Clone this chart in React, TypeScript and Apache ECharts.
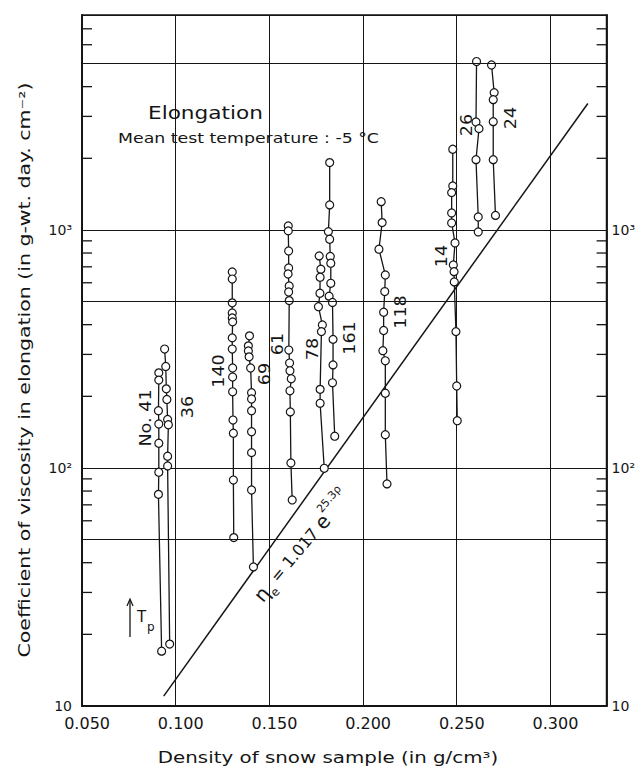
import React, { useEffect, useRef } from "react";
import * as echarts from "echarts";

// ---- axis definitions ----
const X_MIN = 0.05;
const X_MAX = 0.33;
const X_INTERVAL = 0.05;
const xTickLabels = ["0.050", "0.100", "0.150", "0.200", "0.250", "0.300"];
const Y_MIN = 10;
const Y_MAX = 8000;
const yMajorLabels: Record<number, string> = { 1: "10", 2: "10²", 3: "10³" };
const yMinorTicks = [20, 30, 40, 60, 70, 80, 90, 200, 300, 400, 600, 700, 800, 900, 2000, 3000, 4000, 6000, 7000];
const yExtraGridlines = [50, 500, 5000];

// ---- samples: [density, viscosity] ----
const sample41 = [[0.0910, 251], [0.0910, 234], [0.0908, 174], [0.0910, 153], [0.0910, 127], [0.0910, 96], [0.0908, 77.5], [0.0925, 17.0]];
const sample36 = [[0.0941, 316], [0.0947, 267], [0.0950, 215], [0.0953, 194], [0.0957, 160], [0.0961, 152], [0.0957, 112], [0.0957, 102], [0.0968, 18.2]];
const sample140 = [[0.1302, 666], [0.1302, 622], [0.1302, 494], [0.1302, 448], [0.1302, 427], [0.1304, 411], [0.1302, 352], [0.1302, 316], [0.1304, 263], [0.1304, 241], [0.1304, 209], [0.1306, 159], [0.1308, 140], [0.1308, 89], [0.1310, 51]];
const sample69 = [[0.1394, 359], [0.1388, 326], [0.1388, 310], [0.1392, 293], [0.1400, 263], [0.1405, 207], [0.1405, 195], [0.1405, 174], [0.1405, 142], [0.1405, 116], [0.1405, 80.8], [0.1415, 38.4]];
const sample61 = [[0.1601, 1039], [0.1601, 991], [0.1603, 816], [0.1603, 692], [0.1600, 653], [0.1606, 582], [0.1603, 549], [0.1606, 505], [0.1604, 313], [0.1608, 276], [0.1610, 256], [0.1617, 237], [0.1610, 211], [0.1612, 172], [0.1615, 105], [0.1622, 73.4]];
const sample78 = [[0.1766, 778], [0.1775, 684], [0.1771, 633], [0.1770, 542], [0.1762, 476], [0.1783, 399], [0.1778, 374], [0.1771, 214], [0.1771, 187], [0.1793, 99.7]];
const sample161 = [[0.1822, 1919], [0.1822, 1274], [0.1815, 984], [0.1822, 914], [0.1825, 774], [0.1828, 725], [0.1828, 597], [0.1819, 527], [0.1837, 496], [0.1840, 347], [0.1840, 271], [0.1837, 228], [0.1849, 136]];
const sample118 = [[0.2097, 1315], [0.2102, 1074], [0.2085, 830], [0.2119, 647], [0.2116, 551], [0.2110, 451], [0.2110, 378], [0.2106, 311], [0.2119, 282], [0.2119, 206], [0.2119, 138], [0.2128, 85.7]];
const sample14 = [[0.2479, 2183], [0.2479, 1531], [0.2473, 1435], [0.2473, 1179], [0.2473, 1070], [0.2491, 882], [0.2482, 713], [0.2486, 668], [0.2487, 605], [0.2496, 374], [0.2500, 221], [0.2503, 158]];
const sample26 = [[0.2606, 5100], [0.2603, 2843], [0.2619, 2665], [0.2603, 1974], [0.2615, 1134], [0.2615, 981]];
const sample24 = [[0.2686, 4933], [0.2700, 3776], [0.2695, 3527], [0.2695, 2851], [0.2695, 1974], [0.2707, 1151]];

// fitted line  eta_e = 1.017 e^(25.3 rho), end points
const fitLine = [[0.0936, 11.0], [0.320, 3400]];

const sampleNames = ["No. 41", "36", "140", "69", "61", "78", "161", "118", "14", "26", "24"];
const sampleData = [sample41, sample36, sample140, sample69, sample61, sample78, sample161, sample118, sample14, sample26, sample24];

// label placement (pixels) for sample numbers
const labelPos: Record<string, [number, number]> = {
  "No. 41": [145, 418],
  "36": [187, 407],
  "140": [218, 371],
  "69": [264, 374],
  "61": [277, 344],
  "78": [312, 349],
  "161": [349, 338],
  "118": [400, 312],
  "14": [441, 256],
  "26": [466, 125],
  "24": [510, 118],
};

const INK = "#151515";
const FONT = "DejaVu Sans";

export default function App() {
  const ref = useRef<HTMLDivElement>(null);

  useEffect(() => {
    if (!ref.current) return;
    const chart = echarts.init(ref.current, null, { renderer: "svg" });

    const yLabelFmt = (v: number) => {
      const l = Math.log10(v);
      const r = Math.round(l);
      if (Math.abs(l - r) < 1e-6 && yMajorLabels[r]) return yMajorLabels[r];
      return "";
    };
    const xLabelFmt = (v: number) => {
      const i = Math.round((v - X_MIN) / X_INTERVAL);
      if (Math.abs(v - (X_MIN + i * X_INTERVAL)) < 1e-6 && xTickLabels[i]) return "  " + xTickLabels[i];
      return "";
    };

    const sampleSeries = sampleData.map((d, i) => ({
      type: "line",
      name: sampleNames[i],
      data: d,
      symbol: "circle",
      symbolSize: 8,
      showSymbol: true,
      itemStyle: { color: "#ffffff", borderColor: INK, borderWidth: 1.2 },
      lineStyle: { color: INK, width: 1.3 },
      z: 4,
      silent: true,
    }));

    const graphics: any[] = [];
    sampleNames.forEach((n) => {
      const p = labelPos[n];
      graphics.push({
        type: "text",
        x: p[0],
        y: p[1],
        rotation: Math.PI / 2,
        scaleX: 1.1,
        style: { text: n, font: `16px ${FONT}`, fill: INK, align: "center", verticalAlign: "middle" },
        z: 10,
      });
    });

    graphics.push(
      {
        type: "text",
        x: 148,
        y: 113,
        scaleX: 1.2,
        style: { text: "Elongation", font: `18px ${FONT}`, fill: INK, align: "left", verticalAlign: "middle" },
      },
      {
        type: "text",
        x: 118,
        y: 138,
        scaleX: 1.24,
        style: { text: "Mean test temperature : -5 °C", font: `14px ${FONT}`, fill: INK, align: "left", verticalAlign: "middle" },
      },
      {
        type: "text",
        x: 24,
        y: 370,
        rotation: Math.PI / 2,
        scaleX: 1.28,
        style: {
          text: "Coefficient of viscosity in elongation (in g-wt. day. cm⁻²)",
          font: `16px ${FONT}`,
          fill: INK,
          align: "center",
          verticalAlign: "middle",
        },
      },
      {
        type: "text",
        x: 328,
        y: 757,
        scaleX: 1.24,
        style: { text: "Density of snow sample (in g/cm³)", font: `16px ${FONT}`, fill: INK, align: "center", verticalAlign: "middle" },
      },
      // T_p arrow
      { type: "line", shape: { x1: 130, y1: 637, x2: 130, y2: 600 }, style: { stroke: INK, lineWidth: 1.3 } },
      { type: "polyline", shape: { points: [[127, 606], [130, 599], [133, 606]] }, style: { stroke: INK, lineWidth: 1.2, fill: null } },
      {
        type: "text",
        x: 137,
        y: 617,
        style: { text: "T", font: `15px ${FONT}`, fill: INK, align: "left", verticalAlign: "middle" },
      },
      {
        type: "text",
        x: 147,
        y: 627,
        style: { text: "p", font: `12px ${FONT}`, fill: INK, align: "left", verticalAlign: "middle" },
      },
      // equation
      {
        type: "text",
        x: 302,
        y: 546,
        rotation: (50 * Math.PI) / 180,
        style: {
          text: "{a|η}{s|e}{b| = 1.017 }{a|e}{p|25.3ρ}",
          rich: {
            a: { font: `20px ${FONT}`, fill: INK, verticalAlign: "middle", lineHeight: 30 },
            s: { font: `12px ${FONT}`, fill: INK, verticalAlign: "bottom", lineHeight: 30 },
            b: { font: `16px ${FONT}`, fill: INK, verticalAlign: "middle", lineHeight: 30 },
            p: { font: `11px ${FONT}`, fill: INK, verticalAlign: "top", lineHeight: 30 },
          },
          align: "center",
          verticalAlign: "middle",
        },
      }
    );

    const option: any = {
      animation: false,
      backgroundColor: "#ffffff",
      grid: {
        left: 82,
        right: 27,
        top: 15,
        bottom: 62,
        show: true,
        borderColor: INK,
        borderWidth: 1.6,
        backgroundColor: "transparent",
      },
      xAxis: {
        type: "value",
        min: X_MIN,
        max: X_MAX,
        interval: X_INTERVAL,
        axisLine: { show: true, lineStyle: { color: INK, width: 1.8 } },
        axisTick: { show: false },
        splitLine: { show: true, lineStyle: { color: INK, width: 1 } },
        axisLabel: {
          showMaxLabel: false,
          formatter: xLabelFmt,
          color: INK,
          fontFamily: FONT,
          fontSize: 16,
          margin: 9,
        },
      },
      yAxis: [
        {
          type: "log",
          logBase: 10,
          min: Y_MIN,
          max: Y_MAX,
          position: "left",
          axisLine: { show: true, lineStyle: { color: INK, width: 1.8 } },
          axisTick: { show: false },
          splitLine: { show: true, lineStyle: { color: INK, width: 1 } },
          axisLabel: { formatter: yLabelFmt, color: INK, fontFamily: FONT, fontSize: 14, margin: 10, showMaxLabel: false },
        },
        {
          type: "log",
          logBase: 10,
          min: Y_MIN,
          max: Y_MAX,
          position: "right",
          axisLine: { show: true, lineStyle: { color: INK, width: 1.8 } },
          axisTick: { show: false },
          splitLine: { show: false },
          axisLabel: { formatter: yLabelFmt, color: INK, fontFamily: FONT, fontSize: 14, margin: 5, showMaxLabel: false },
        },
      ],
      series: [
        {
          type: "line",
          name: "fit",
          data: fitLine,
          showSymbol: false,
          symbol: "none",
          lineStyle: { color: INK, width: 1.5 },
          z: 3,
          silent: true,
          markLine: {
            silent: true,
            symbol: "none",
            label: { show: false },
            lineStyle: { color: INK, width: 1, type: "solid" },
            data: yExtraGridlines.map((v) => ({ yAxis: v })),
          },
        },
        {
          type: "custom",
          name: "minorTicks",
          data: yMinorTicks.map((v) => [X_MIN, v]),
          encode: { x: 0, y: 1 },
          silent: true,
          z: 5,
          renderItem: (_params: any, api: any) => {
            const v = api.value(1);
            const l = api.coord([X_MIN, v]);
            const r = api.coord([X_MAX, v]);
            return {
              type: "group",
              children: [
                { type: "line", shape: { x1: l[0], y1: l[1], x2: l[0] + 10, y2: l[1] }, style: { stroke: INK, lineWidth: 1.3 } },
                { type: "line", shape: { x1: r[0] - 10, y1: r[1], x2: r[0], y2: r[1] }, style: { stroke: INK, lineWidth: 1.3 } },
              ],
            };
          },
        },
        ...sampleSeries,
      ],
      graphic: graphics,
    };

    chart.setOption(option);
    return () => chart.dispose();
  }, []);

  return (
    <div
      ref={ref}
      style={{ position: "absolute", left: 0, top: 0, width: 638, height: 768, background: "#fff" }}
    />
  );
}
